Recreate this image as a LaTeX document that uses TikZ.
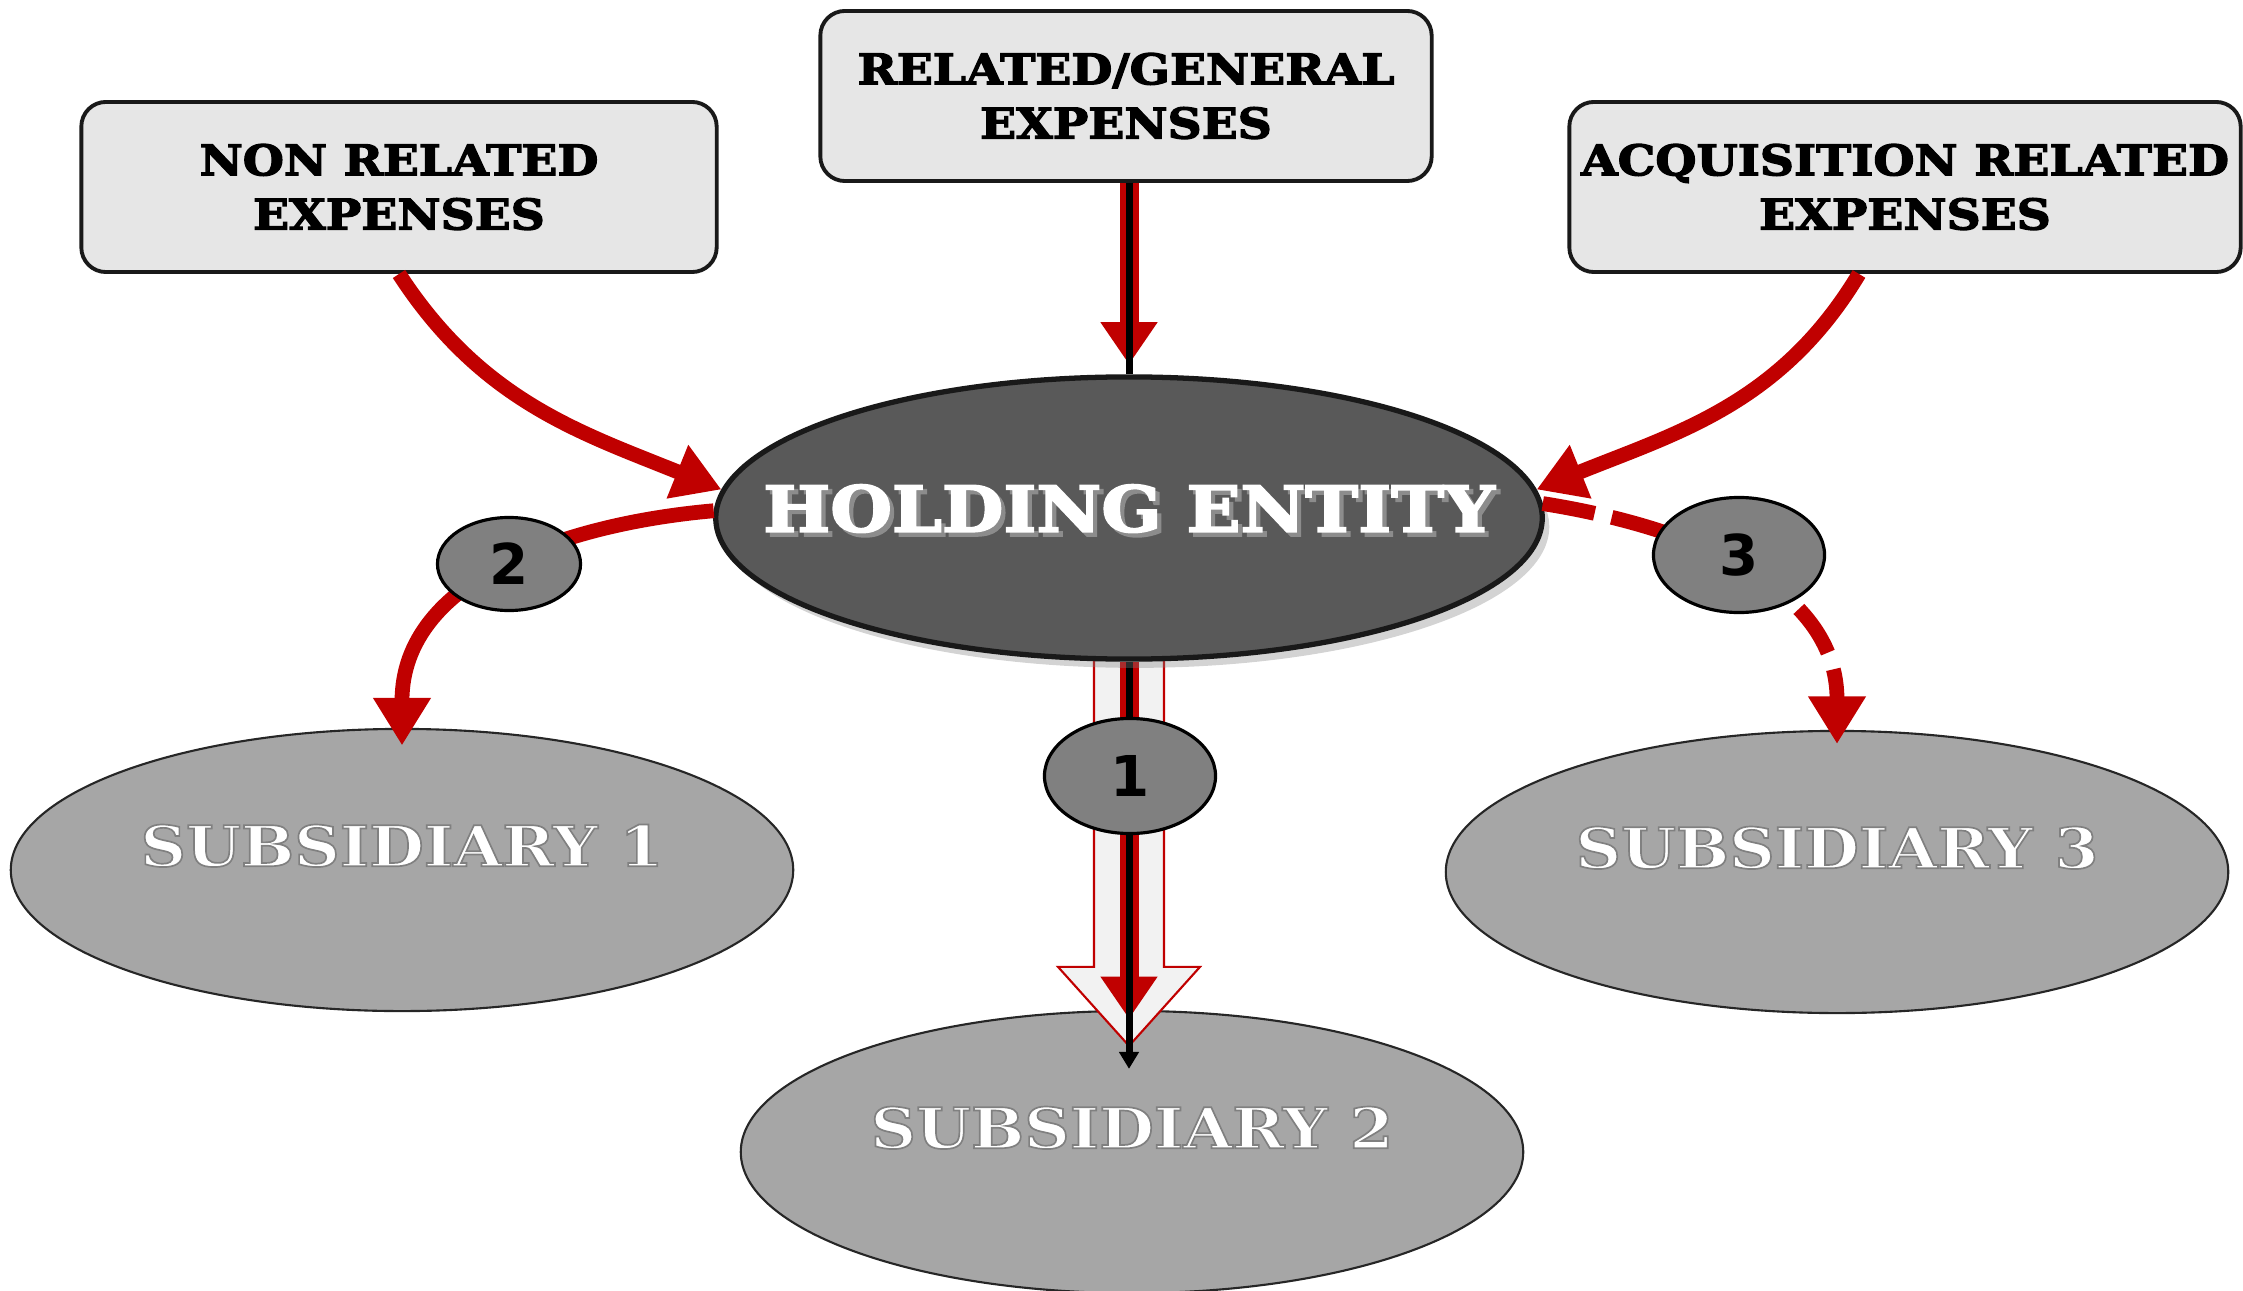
\documentclass[tikz,border=0pt]{standalone}
\usepackage{fontspec}
\setmainfont{DejaVu Serif}
\newfontfamily\heavyfont{DejaVu Serif}[BoldFeatures={FakeBold=3,FakeStretch=1.12}]
\newfontfamily\numfont{DejaVu Sans}
\usetikzlibrary{arrows.meta,positioning,shapes.geometric,shadows,calc}
\pgfdeclarelayer{back}
\pgfsetlayers{back,main}

\definecolor{arrowred}{HTML}{C00000}
\definecolor{boxgray}{HTML}{E6E6E6}
\definecolor{holdgray}{HTML}{595959}
\definecolor{subgray}{HTML}{A6A6A6}
\definecolor{badgegray}{HTML}{808080}
\definecolor{shaftgray}{HTML}{F2F2F2}

% white lettering with a soft grey shadow (zero width, so the ellipse keeps its size)
\newcommand{\shadowed}[1]{\makebox[0pt]{\makebox[0pt][l]{\hspace{1.2pt}\raisebox{-1.2pt}{\textcolor{black!45}{#1}}}#1}}
% white lettering, thin grey stroke round the glyphs
\newcommand{\outlined}[1]{\makebox[0pt]{\special{pdf:code 0.5 G}#1}}

\begin{document}
\begin{tikzpicture}[
          x=0.01cm, y=0.01cm,
          expbox/.style={rectangle, rounded corners=7pt, draw=black!90, line width=1.1pt,
                         fill=boxgray, minimum height=1.7cm, align=center,
                         font=\heavyfont\bfseries\fontsize{12}{15.4}\selectfont},
          holding/.style={ellipse, draw=black!90, line width=1.5pt, fill=holdgray, inner sep=0pt,
                          minimum width=8.26cm, minimum height=2.82cm, text=white,
                          font=\heavyfont\bfseries\fontsize{18}{22}\selectfont, text depth=5.6pt,
                          drop shadow={shadow xshift=2pt, shadow yshift=-2.5pt, opacity=0.35}},
          subsid/.style={ellipse, draw=black!85, line width=0.6pt, fill=subgray, inner sep=0pt,
                         minimum width=7.82cm, minimum height=2.82cm, text=white,
                         font=\heavyfont\bfseries\fontsize{16}{19}\selectfont, text depth=14pt},
          badge/.style={ellipse, draw=black, line width=0.9pt, fill=badgegray, inner sep=0pt,
                        minimum width=1.71cm, minimum height=1.15cm,
                        font=\numfont\bfseries\fontsize{16}{19}\selectfont},
          redflow/.style={draw=arrowred, line width=4.2pt, ->},
          redstem/.style={draw=arrowred, line width=5.4pt, -{Triangle[width=15.4pt,length=12pt]}},
          blackstem/.style={draw=black, line width=2pt},
          hollowarrow/.style={draw=arrowred, line width=0.6pt, fill=shaftgray},
          >={Triangle[width=15.5pt,length=13.5pt]}
        ]
        \useasboundingbox (0,0) rectangle (2243,1290);

        \node[expbox, minimum width=6.35cm] (nonrel) at (399,1103) {NON RELATED\\EXPENSES};
        \node[expbox, minimum width=6.11cm] (related) at (1126,1194) {RELATED/GENERAL\\EXPENSES};
        \node[expbox, minimum width=6.69cm] (acq) at (1905,1103) {ACQUISITION RELATED\\EXPENSES};
        \node[holding] (holding) at (1129,772) {\shadowed{HOLDING ENTITY}};

        \begin{pgfonlayer}{back}
          \node[subsid] (sub1) at (402,420) {\outlined{SUBSIDIARY 1}};
          \node[subsid] (sub2) at (1132,138) {\outlined{SUBSIDIARY 2}};
          \node[subsid] (sub3) at (1837,418) {\outlined{SUBSIDIARY 3}};
          % broad arrow down to subsidiary 2
          \coordinate (tip) at ($(holding.south |- sub2.north)+(0,-36)$);
          \draw[hollowarrow] ($(holding.south)+(-35,12)$) -- ($(tip)+(-35,79)$) -- ($(tip)+(-71,79)$)
            -- (tip) -- ($(tip)+(71,79)$) -- ($(tip)+(35,79)$) -- ($(holding.south)+(35,12)$) -- cycle;
          \draw[redstem] (holding.south) -- ($(tip)+(0,27)$);
          \draw[blackstem, -{Triangle[width=5.4pt,length=4.8pt]}] (holding.south) -- ($(tip)+(0,-23)$);
        \end{pgfonlayer}

        \draw[redflow] (nonrel.south) to[out=-57, in=158] (holding.176);
        \draw[redflow] ([xshift=-4.6mm]acq.south) to[out=-121, in=22] (holding.4);
        \draw[redstem, shorten >=2.8pt] (holding.north |- related.south) -- (holding.north);
        \draw[blackstem] (holding.north |- related.south) -- (holding.north);
        \draw[redflow, shorten >=-5pt] (holding.179) to[out=185, in=90] (sub1.north);
        \draw[redflow, dash pattern=on 15pt off 5pt, shorten >=-4pt] (holding.2) to[out=-9, in=90] (sub3.north);

        \node[badge] (b1) at (1130,514) {1};
        \node[badge, minimum width=1.43cm, minimum height=0.93cm] (b2) at (509,726) {2};
        \node[badge] (b3) at (1739,735) {3};
      \end{tikzpicture}
\end{document}
